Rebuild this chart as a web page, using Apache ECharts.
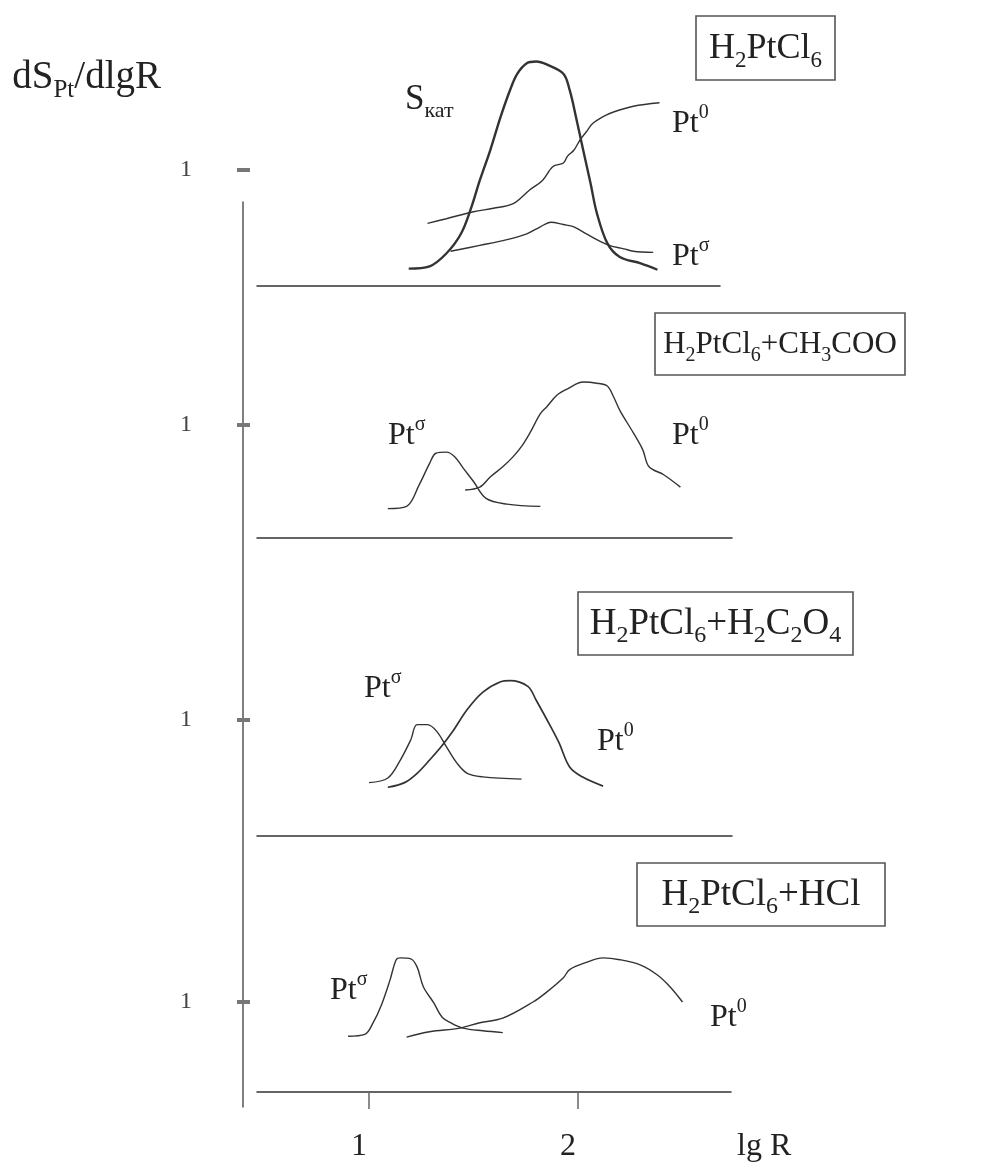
<!DOCTYPE html>
<html><head><meta charset="utf-8">
<script src="https://cdn.jsdelivr.net/npm/echarts@6/dist/echarts.min.js"></script>
<style>html,body{margin:0;padding:0;background:#fff}#c{width:984px;height:1169px}</style>
</head><body><div id="c"></div>
<script>
// ---------- DATA (lg R, dS/dlgR) ----------
const xTickValues = [1, 2];
const yTickValues = [1];
const panelTitles = [
  'H{sub|2}PtCl{sub|6}',
  'H{sub|2}PtCl{sub|6}+CH{sub|3}COO',
  'H{sub|2}PtCl{sub|6}+H{sub|2}C{sub|2}O{sub|4}',
  'H{sub|2}PtCl{sub|6}+HCl'
];
const p1Skat = [[1.19,0.15],[1.29,0.17],[1.37,0.28],[1.44,0.45],[1.49,0.68],[1.53,0.91],[1.58,1.17],[1.63,1.46],[1.675,1.69],[1.71,1.83],[1.755,1.92],[1.80,1.935],[1.85,1.91],[1.93,1.83],[1.96,1.69],[1.99,1.46],[2.025,1.17],[2.06,0.885],[2.09,0.63],[2.14,0.37],[2.20,0.25],[2.30,0.195],[2.38,0.14]];
const p1Pt0 = [[1.28,0.54],[1.37,0.58],[1.50,0.64],[1.595,0.67],[1.69,0.71],[1.77,0.83],[1.83,0.91],[1.88,1.03],[1.93,1.06],[1.95,1.12],[1.98,1.17],[2.01,1.26],[2.04,1.33],[2.07,1.40],[2.12,1.46],[2.17,1.50],[2.265,1.55],[2.39,1.58]];
const p1PtS = [[1.39,0.30],[1.53,0.35],[1.66,0.40],[1.755,0.45],[1.82,0.51],[1.87,0.55],[1.93,0.53],[1.98,0.51],[2.04,0.45],[2.09,0.40],[2.15,0.35],[2.22,0.32],[2.265,0.30],[2.36,0.29]];
const p2PtS = [[1.09,0.26],[1.18,0.28],[1.24,0.47],[1.29,0.66],[1.32,0.75],[1.37,0.76],[1.41,0.72],[1.45,0.62],[1.50,0.50],[1.56,0.35],[1.66,0.30],[1.82,0.28]];
const p2Pt0 = [[1.46,0.425],[1.53,0.45],[1.58,0.54],[1.64,0.63],[1.69,0.72],[1.73,0.81],[1.77,0.93],[1.82,1.10],[1.85,1.16],[1.90,1.265],[1.95,1.32],[2.025,1.38],[2.09,1.37],[2.14,1.345],[2.17,1.25],[2.20,1.13],[2.265,0.93],[2.31,0.78],[2.34,0.63],[2.41,0.56],[2.49,0.45]];
const p3PtS = [[1.00,0.46],[1.09,0.50],[1.15,0.655],[1.20,0.83],[1.23,0.96],[1.28,0.96],[1.325,0.90],[1.37,0.77],[1.42,0.63],[1.47,0.54],[1.545,0.51],[1.73,0.49]];
const p3Pt0 = [[1.09,0.42],[1.17,0.46],[1.23,0.54],[1.29,0.655],[1.35,0.78],[1.40,0.90],[1.47,1.09],[1.545,1.24],[1.63,1.33],[1.675,1.34],[1.76,1.29],[1.80,1.17],[1.87,0.94],[1.91,0.80],[1.96,0.595],[2.02,0.51],[2.12,0.43]];
const p4PtS = [[0.90,0.62],[0.98,0.64],[1.02,0.77],[1.06,0.97],[1.10,1.24],[1.13,1.47],[1.15,1.49],[1.20,1.48],[1.23,1.39],[1.26,1.17],[1.31,0.99],[1.35,0.83],[1.39,0.77],[1.45,0.71],[1.545,0.68],[1.64,0.66]];
const p4Pt0 = [[1.18,0.61],[1.29,0.67],[1.435,0.71],[1.53,0.77],[1.64,0.82],[1.785,1.00],[1.85,1.11],[1.93,1.27],[1.96,1.36],[2.04,1.44],[2.12,1.49],[2.20,1.47],[2.30,1.41],[2.38,1.30],[2.44,1.17],[2.50,1.00]];

// ---------- LAYOUT ----------
const FF = '"Liberation Serif", "DejaVu Serif", serif';
const INK = '#222';
const X0 = 160, UNIT = 209;            // pixel of lgR=0, pixels per lgR unit
const GL = 257;                         // left end of baselines
const XMIN = (GL - X0) / UNIT;
const YMAX = 2;
const panels = [
  {base: 286, ppu: 116, right: 720},
  {base: 538, ppu: 113, right: 732},
  {base: 836, ppu: 116, right: 732},
  {base: 1092, ppu: 90, right: 731}
];
const boxes = [
  {x: 696, y: 16, w: 139, h: 64, fs: 36},
  {x: 655, y: 313, w: 250, h: 62, fs: 31},
  {x: 578, y: 592, w: 275, h: 63, fs: 37},
  {x: 637, y: 863, w: 248, h: 63, fs: 37}
];

function rich(size) {
  return {
    sub: {fontSize: Math.round(size * 0.64), lineHeight: Math.round(size * 0.72), verticalAlign: 'bottom', fontFamily: FF, fill: INK, color: INK},
    sup: {fontSize: Math.round(size * 0.64), lineHeight: Math.round(size * 0.6), verticalAlign: 'top', fontFamily: FF, fill: INK, color: INK}
  };
}
function label(x, y, text, size, align) {
  return {type: 'text', x: x, y: y, z: 10, style: {text: text, fontFamily: FF, fontSize: size, lineHeight: size + 10,
    fill: INK, align: align || 'left', verticalAlign: 'middle', rich: rich(size)}};
}

const grid = [], xAxis = [], yAxis = [], series = [];
panels.forEach((p, i) => {
  grid.push({left: GL, top: p.base - YMAX * p.ppu, width: p.right - GL, height: YMAX * p.ppu});
  const last = i === panels.length - 1;
  xAxis.push({
    type: 'value', gridIndex: i, min: XMIN, max: (p.right - X0) / UNIT,
    axisLine: {show: true, onZero: false, lineStyle: {color: '#333', width: 1.5}},
    axisTick: {show: last, customValues: xTickValues, length: 17, lineStyle: {color: '#666', width: 1.5}},
    axisLabel: {show: last, customValues: xTickValues, margin: 39, fontSize: 32, fontFamily: FF, color: INK, padding: [0, 20, 0, 0]},
    splitLine: {show: false},
    name: last ? 'lg R' : '', nameLocation: 'end', nameGap: 6,
    nameTextStyle: {fontSize: 32, fontFamily: FF, color: INK, align: 'left', verticalAlign: 'top', padding: [39, 0, 0, 0]}
  });
  yAxis.push({
    type: 'value', gridIndex: i, min: 0, max: YMAX, offset: 7,
    axisLine: {show: false},
    axisTick: {show: true, customValues: yTickValues, length: 13, lineStyle: {color: '#777', width: 4}},
    axisLabel: {show: true, customValues: yTickValues, margin: 58, fontSize: 24, fontFamily: FF, color: '#444'},
    splitLine: {show: false}
  });
});
// continuous vertical axis
grid.push({left: 243, top: 202, width: 20, height: 905});
xAxis.push({type: 'value', gridIndex: 4, show: false, min: 0, max: 1});
yAxis.push({
  type: 'value', gridIndex: 4, min: 0, max: 1,
  axisLine: {show: true, lineStyle: {color: '#555', width: 1.5}},
  axisTick: {show: false}, axisLabel: {show: false}, splitLine: {show: false},
  name: 'dS{sub|Pt}/dlgR', nameLocation: 'end', nameGap: 124,
  nameTextStyle: {fontSize: 39, fontFamily: FF, color: INK, align: 'right', verticalAlign: 'middle', lineHeight: 50,
    padding: [0, 82, 0, 0], rich: rich(39)}
});

function line(name, data, idx, w) {
  return {type: 'line', name: name, xAxisIndex: idx, yAxisIndex: idx, data: data, smooth: 0.35,
    showSymbol: false, symbol: 'none', lineStyle: {color: '#333', width: w || 1.4}, silent: true};
}
series.push(line('Sкат', p1Skat, 0, 2.4), line('Pt0', p1Pt0, 0), line('Ptσ', p1PtS, 0));
series.push(line('Ptσ', p2PtS, 1), line('Pt0', p2Pt0, 1));
series.push(line('Ptσ', p3PtS, 2), line('Pt0', p3Pt0, 2, 1.7));
series.push(line('Ptσ', p4PtS, 3), line('Pt0', p4Pt0, 3));

const graphic = [];
boxes.forEach((b, i) => {
  graphic.push({type: 'rect', shape: {x: b.x, y: b.y, width: b.w, height: b.h}, style: {fill: 'none', stroke: '#555', lineWidth: 1.6}});
  graphic.push(label(b.x + b.w / 2, b.y + b.h / 2 + 1, panelTitles[i], b.fs, 'center'));
});
graphic.push(
  label(405, 100, 'S{sub|кат}', 35),
  label(672, 124, 'Pt{sup|0}', 32),
  label(672, 257, 'Pt{sup|σ}', 32),
  label(388, 436, 'Pt{sup|σ}', 32),
  label(672, 436, 'Pt{sup|0}', 32),
  label(364, 689, 'Pt{sup|σ}', 32),
  label(597, 742, 'Pt{sup|0}', 32),
  label(330, 991, 'Pt{sup|σ}', 32),
  label(710, 1018, 'Pt{sup|0}', 32)
);

const chart = echarts.init(document.getElementById('c'), null, {renderer: 'canvas'});
chart.setOption({animation: false, backgroundColor: '#fff', grid, xAxis, yAxis, series, graphic});
</script></body></html>
